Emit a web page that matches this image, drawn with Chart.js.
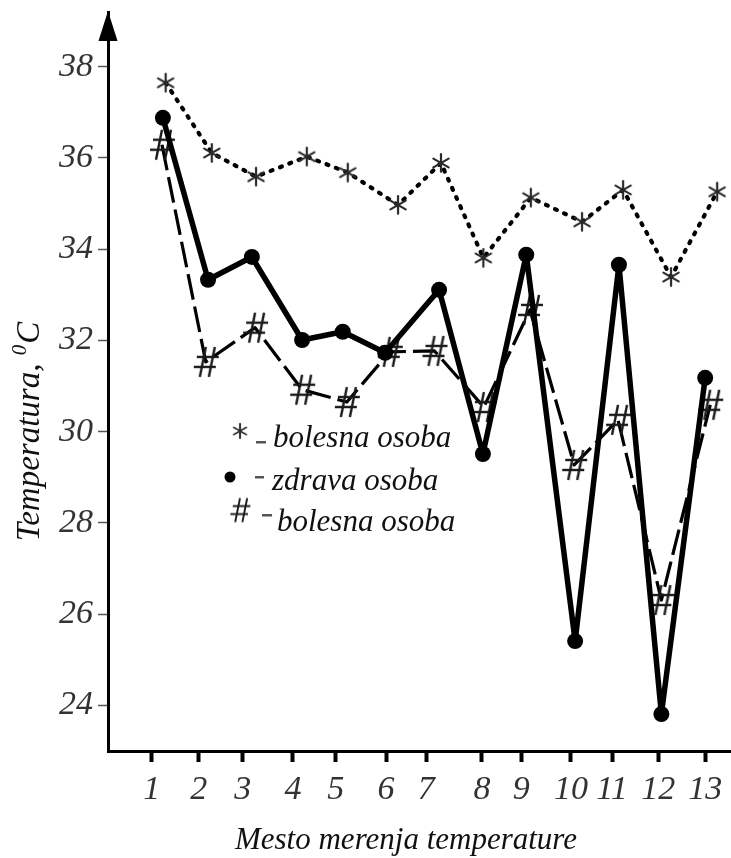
<!DOCTYPE html>
<html>
<head>
<meta charset="utf-8">
<script src="https://cdn.jsdelivr.net/npm/chart.js@4/dist/chart.umd.min.js"></script>
<style>
  html, body { margin: 0; padding: 0; background: #fff; }
  #c { display: block; }
</style>
</head>
<body>
<canvas id="c" width="731" height="858"></canvas>
<script>
// Measuring points along the x axis (positions of the 13 tick marks) and their labels
const xTickPos    = [1.00, 2.02, 2.97, 4.06, 4.99, 6.08, 6.95, 8.16, 9.01, 10.09, 10.98, 11.98, 13.00];
const xTickLabels = ['1', '2', '3', '4', '5', '6', '7', '8', '9', '10', '11', '12', '13'];
const yTicks      = [24, 26, 28, 30, 32, 34, 36, 38];

// "*" series – bolesna osoba
const sickStarX = [1.30, 2.30, 3.26, 4.36, 5.25, 6.34, 7.27, 8.19, 9.22, 10.33, 11.22, 12.26, 13.26];
const sickStarY = [37.65, 36.11, 35.59, 36.03, 35.68, 34.97, 35.89, 33.81, 35.13, 34.60, 35.30, 33.39, 35.26];

// "•" series – zdrava osoba
const healthyX = [1.24, 2.22, 3.17, 4.26, 5.14, 6.06, 7.23, 8.18, 9.12, 10.18, 11.13, 12.05, 13.00];
const healthyY = [36.88, 33.33, 33.83, 32.01, 32.19, 31.73, 33.11, 29.51, 33.88, 25.41, 33.66, 23.81, 31.18];

// "#" series – bolesna osoba
const sickHashX = [1.22, 2.17, 3.24, 4.26, 5.23, 6.16, 7.13, 8.20, 9.20, 10.16, 11.11, 12.05, 13.11];
const sickHashY = [36.29, 31.53, 32.28, 30.92, 30.65, 31.75, 31.77, 30.54, 32.67, 29.27, 30.26, 26.31, 30.59];

const legendLabels = ['bolesna osoba', 'zdrava osoba', 'bolesna osoba'];
const xTitle = 'Mesto merenja temperature';
const yTitle = 'Temperatura, ';
const yTitleSup = '0';
const yTitleUnit = 'C';

const SERIF = '"Liberation Serif", "Times New Roman", serif';

function toPoints(xs, ys) {
  return xs.map((x, i) => ({ x: x, y: ys[i] }));
}

// asterisk marker
function makeStar() {
  const c = document.createElement('canvas');
  c.width = 22; c.height = 22;
  const g = c.getContext('2d');
  g.strokeStyle = '#2a2a2a';
  g.lineWidth = 2.2;
  g.lineCap = 'round';
  const r = 8.8;
  for (let k = 0; k < 3; k++) {
    const a = Math.PI / 2 + k * Math.PI / 3;
    g.beginPath();
    g.moveTo(11 - r * Math.cos(a), 11 - r * Math.sin(a));
    g.lineTo(11 + r * Math.cos(a), 11 + r * Math.sin(a));
    g.stroke();
  }
  return c;
}

// slanted hash marker
function makeHash(s) {
  const c = document.createElement('canvas');
  c.width = Math.round(30 * s); c.height = Math.round(34 * s);
  const g = c.getContext('2d');
  g.scale(s, s);
  g.strokeStyle = '#1a1a1a';
  g.lineWidth = 2.4;
  g.lineCap = 'butt';
  const seg = (x1, y1, x2, y2) => { g.beginPath(); g.moveTo(x1, y1); g.lineTo(x2, y2); g.stroke(); };
  seg(15, 2, 9, 32);
  seg(24, 2, 18, 32);
  seg(6, 12, 28, 12);
  seg(3, 22, 25, 22);
  return c;
}

const starImg = makeStar();
const hashImg = makeHash(1);
const hashSmall = makeHash(0.8);

const decorPlugin = {
  id: 'decor',
  afterDraw(chart) {
    const ctx = chart.ctx;
    const area = chart.chartArea;
    ctx.save();

    // arrow head on the y axis
    ctx.fillStyle = '#000';
    ctx.beginPath();
    ctx.moveTo(area.left - 9.5, 41);
    ctx.lineTo(area.left + 9.5, 41);
    ctx.lineTo(area.left, 11);
    ctx.closePath();
    ctx.fill();

    // legend inside the plot: symbol, dash, label
    ctx.drawImage(starImg, 240 - 9, 431 - 9, 18, 18);
    ctx.fillStyle = '#000';
    ctx.beginPath();
    ctx.arc(230, 477, 5.5, 0, Math.PI * 2);
    ctx.fill();
    ctx.drawImage(hashSmall, 240 - hashSmall.width / 2, 510 - hashSmall.height / 2);

    ctx.fillStyle = '#555';
    ctx.fillRect(256, 441, 10, 2.5);
    ctx.fillRect(255, 476, 9, 2.5);
    ctx.fillRect(262, 514, 10, 2.5);

    ctx.fillStyle = '#111';
    ctx.textBaseline = 'alphabetic';
    ctx.textAlign = 'left';
    ctx.font = 'italic 31px ' + SERIF;
    ctx.fillText(legendLabels[0], 273, 447);
    ctx.fillText(legendLabels[1], 272, 490);
    ctx.fillText(legendLabels[2], 277, 531);

    // x axis title
    ctx.font = 'italic 31px ' + SERIF;
    ctx.textAlign = 'center';
    ctx.fillText(xTitle, 406, 849);

    // y axis title with superscript zero
    ctx.translate(39, 432);
    ctx.rotate(-Math.PI / 2);
    ctx.textAlign = 'left';
    ctx.font = 'italic 33px ' + SERIF;
    const w1 = ctx.measureText(yTitle).width;
    const w3 = ctx.measureText(yTitleUnit).width;
    ctx.font = 'italic 21px ' + SERIF;
    const w2 = ctx.measureText(yTitleSup).width;
    const x0 = -(w1 + w2 + w3) / 2;
    ctx.font = 'italic 33px ' + SERIF;
    ctx.fillText(yTitle, x0, 0);
    ctx.font = 'italic 21px ' + SERIF;
    ctx.fillText(yTitleSup, x0 + w1, -13);
    ctx.font = 'italic 33px ' + SERIF;
    ctx.fillText(yTitleUnit, x0 + w1 + w2 + 1, 0);

    ctx.restore();
  }
};

new Chart(document.getElementById('c'), {
  type: 'line',
  data: {
    datasets: [
      {
        label: legendLabels[1],
        data: toPoints(healthyX, healthyY),
        borderColor: '#000',
        borderWidth: 5.5,
        borderJoinStyle: 'round',
        borderCapStyle: 'round',
        pointStyle: 'circle',
        pointRadius: 8,
        pointBackgroundColor: '#000',
        pointBorderWidth: 0,
        tension: 0
      },
      {
        label: legendLabels[2],
        data: toPoints(sickHashX, sickHashY),
        borderColor: '#000',
        borderWidth: 3.2,
        borderDash: [26, 7],
        borderJoinStyle: 'round',
        pointStyle: hashImg,
        pointRadius: 12,
        tension: 0
      },
      {
        label: legendLabels[0],
        data: toPoints(sickStarX, sickStarY),
        borderColor: '#000',
        borderWidth: 4.2,
        borderDash: [2, 8],
        borderCapStyle: 'round',
        borderJoinStyle: 'round',
        pointStyle: starImg,
        pointRadius: 10,
        tension: 0
      }
    ]
  },
  options: {
    responsive: false,
    animation: false,
    devicePixelRatio: 1,
    clip: false,
    layout: { autoPadding: false, padding: { top: 12, right: 0, bottom: 0, left: 0 } },
    plugins: {
      legend: { display: false },
      tooltip: { enabled: false },
      title: { display: false }
    },
    scales: {
      x: {
        type: 'linear',
        min: 0.05,
        max: 13.56,
        afterBuildTicks(axis) {
          axis.ticks = xTickPos.map(v => ({ value: v }));
        },
        afterFit(scale) {
          scale.height = 107;
          scale.paddingLeft = 0;
          scale.paddingRight = 0;
        },
        border: { display: true, color: '#000', width: 3 },
        grid: {
          drawOnChartArea: false,
          drawTicks: true,
          tickLength: 11,
          tickWidth: 4,
          tickColor: '#000'
        },
        ticks: {
          autoSkip: false,
          maxRotation: 0,
          padding: 8,
          color: '#333',
          font: { family: SERIF, size: 34, style: 'italic' },
          callback: (v, i) => xTickLabels[i]
        }
      },
      y: {
        type: 'linear',
        min: 23,
        max: 39.2,
        afterBuildTicks(axis) {
          axis.ticks = yTicks.map(v => ({ value: v }));
        },
        afterFit(scale) {
          scale.width = 108;
          scale.paddingTop = 0;
          scale.paddingBottom = 0;
        },
        border: { display: true, color: '#000', width: 3 },
        grid: {
          drawOnChartArea: false,
          drawTicks: true,
          tickLength: 10,
          tickWidth: 1.5,
          tickColor: '#555'
        },
        ticks: {
          padding: 5,
          color: '#333',
          font: { family: SERIF, size: 34, style: 'italic' },
          callback: v => String(v)
        }
      }
    }
  },
  plugins: [decorPlugin]
});
</script>
</body>
</html>
